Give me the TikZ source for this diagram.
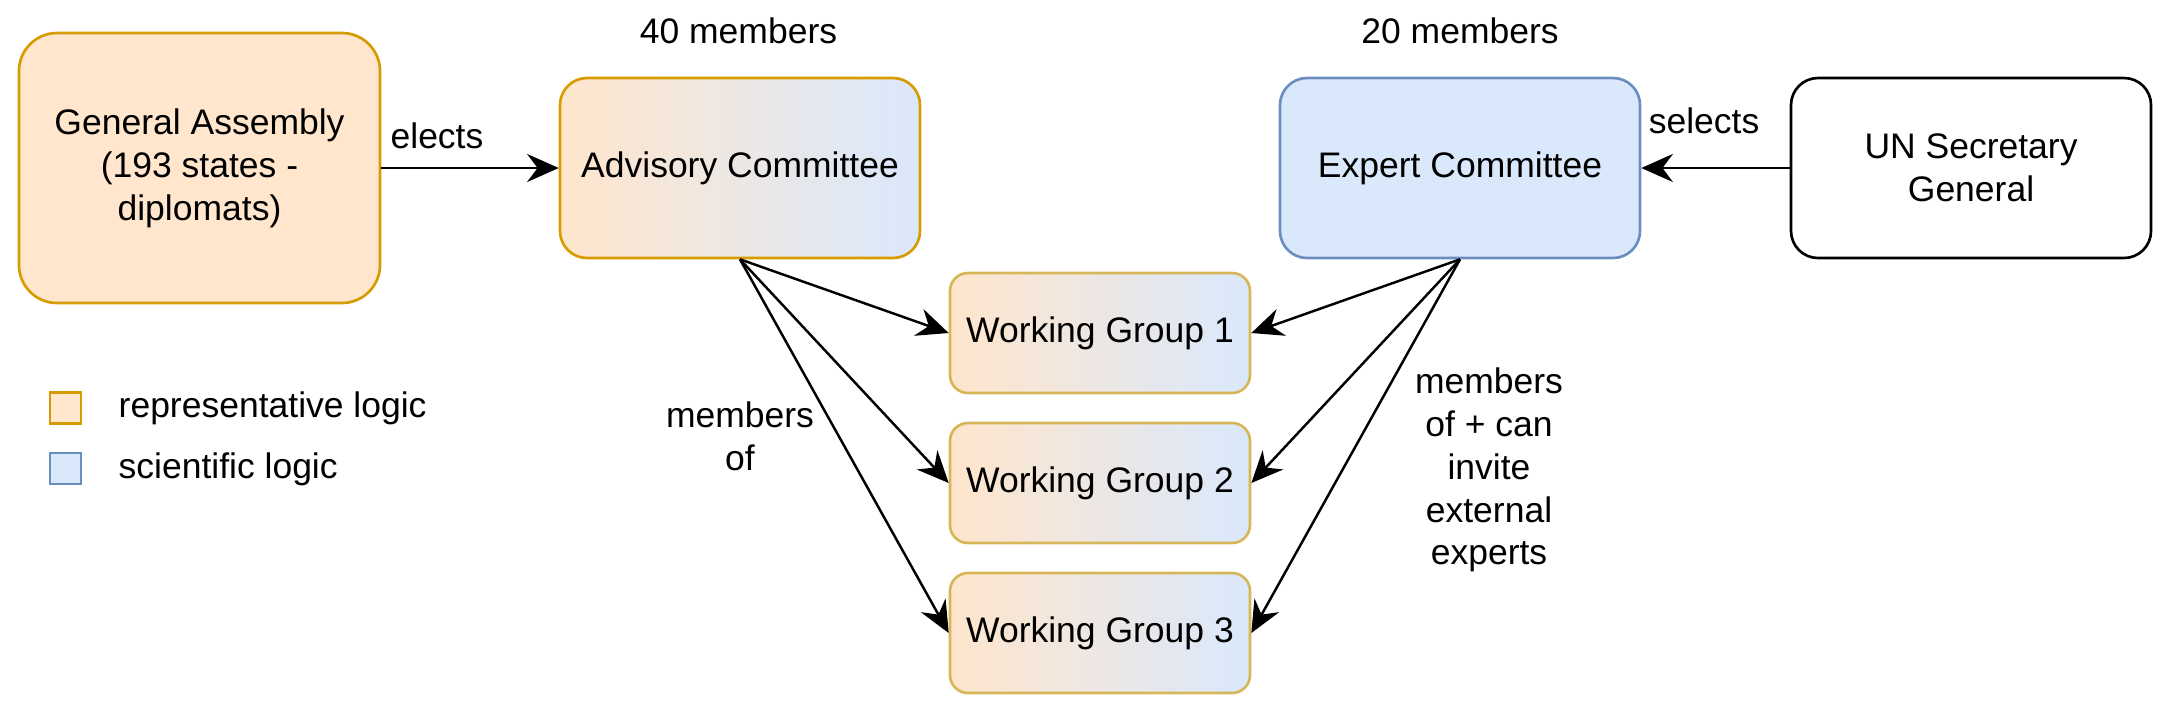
\documentclass[tikz,border=0pt]{standalone}
\usepackage{fontspec}
\setmainfont{Liberation Sans}
\usetikzlibrary{arrows.meta,positioning}
\definecolor{repfill}{HTML}{FFE6CC}
\definecolor{repline}{HTML}{D79B00}
\definecolor{scifill}{HTML}{DAE8FC}
\definecolor{sciline}{HTML}{6C8EBF}
\definecolor{wgline}{HTML}{D6B656}

\begin{document}
\begin{tikzpicture}[
    font=\fontsize{10.1}{12.2}\selectfont,
    box/.style={draw, line width=0.75pt, rounded corners=0.27cm, minimum width=3.6cm, minimum height=1.8cm, align=center, inner sep=0pt},
    wgbox/.style={box, draw=wgline, rounded corners=0.18cm, minimum width=3cm, minimum height=1.2cm, left color=repfill, right color=scifill},
    legbox/.style={draw, line width=0.75pt, minimum size=0.31cm, inner sep=0pt},
    lbl/.style={inner sep=0pt, align=center},
    arr/.style={-{Stealth[length=9pt,width=8pt,inset=3pt]}, line width=0.7pt}
]
            \useasboundingbox (0,0) rectangle (21.72,-7.21);

            % top row
            \node[box, draw=repline, fill=repfill, rounded corners=0.38cm, minimum width=3.61cm, minimum height=2.7cm] (ga) at (1.995,-1.68) {General Assembly\\(193 states -\\diplomats)};
            \node[box, draw=repline, left color=repfill, right color=scifill] (ac) at (7.40,-1.68) {Advisory Committee};
            \node[box, draw=sciline, fill=scifill] (ec) at (14.60,-1.68) {Expert Committee};
            \node[box, draw=black] (un) at (19.71,-1.68) {UN Secretary\\General};

            % working groups
            \foreach \i/\y in {1/-3.33, 2/-4.83, 3/-6.33}
                \node[wgbox] (wg\i) at (11.00,\y) {Working Group \i};

            \draw[arr] (ga.east) -- (ac.west);
            \draw[arr] (un.west) -- (ec.east);
            \foreach \i in {1,2,3} {
                \draw[arr] (ac.south) -- (wg\i.west);
                \draw[arr] (ec.south) -- (wg\i.east);
            }

            % labels
            \node[lbl, anchor=base] (acsize) at (7.385,-0.43) {40 members};
            \node[lbl, anchor=base] (ecsize) at (14.60,-0.43) {20 members};
            \node[lbl, anchor=base] (elects) at (4.37,-1.48) {elects};
            \node[lbl, anchor=base] (selects) at (17.04,-1.33) {selects};
            \node[lbl] (acmem) at (7.40,-4.36) {members\\of};
            \node[lbl] (ecmem) at (14.89,-4.70) {members\\of + can\\invite\\external\\experts};

            % legend
            \node[legbox, draw=repline, fill=repfill] (legrep) at (0.655,-4.08) {};
            \node[legbox, draw=sciline, fill=scifill] (legsci) at (0.655,-4.685) {};
            \node[lbl, anchor=base west] (legreptxt) at (1.18,-4.17) {representative logic};
            \node[lbl, anchor=base west] (legscitxt) at (1.18,-4.78) {scientific logic};
        \end{tikzpicture}
\end{document}
